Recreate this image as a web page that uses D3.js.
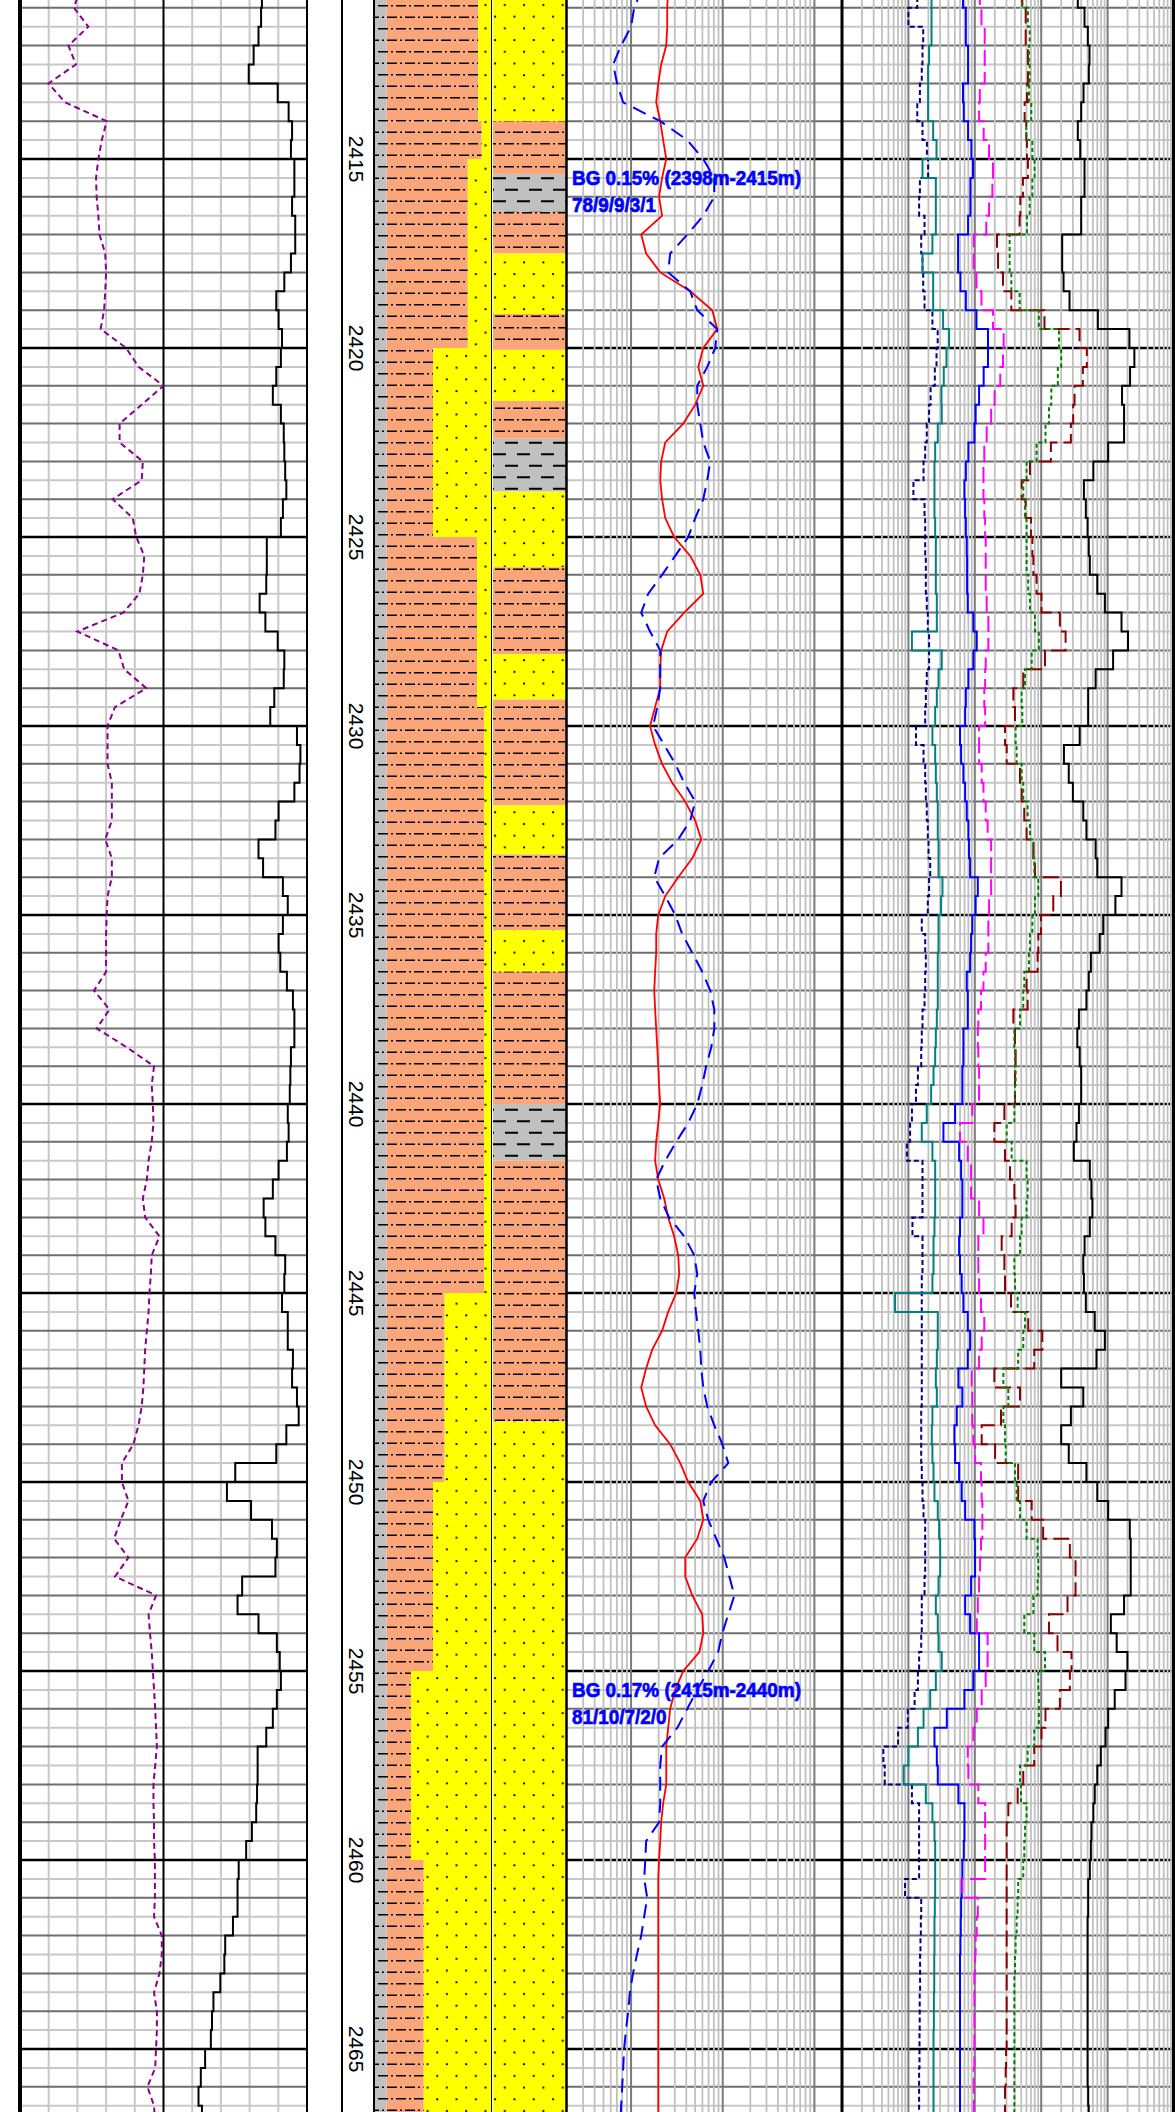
<!DOCTYPE html>
<html>
<head>
<meta charset="utf-8">
<script src="https://cdnjs.cloudflare.com/ajax/libs/d3/7.8.5/d3.min.js"></script>
<style>
  body { margin: 0; background: #fff; }
  svg { display: block; }
</style>
</head>
<body>
<div class="chart"></div>
<script>
var svgWidth = 1175;
var svgHeight = 2112;

// samples every 0.5 m starting here
var depthTop = 2410.5;
var depthStep = 0.5;

// track 1 (linear, 0-100)
var purpleCurve = [20.9, 18.8, 23.8, 16.9, 19.5, 9.9, 15.7, 30.2, 28.5, 27.3,
  26.5, 26.7, 27.3, 27.7, 29.7, 30.0, 29.7, 29.3, 28.1, 37.0,
  41.3, 50.0, 42.4, 34.7, 34.7, 42.8, 42.4, 32.3, 39.3, 40.5,
  43.3, 42.8, 41.6, 36.0, 20.0, 34.3, 36.3, 44.0, 33.1, 30.5,
  30.5, 30.5, 32.0, 32.0, 32.0, 29.7, 32.0, 32.0, 30.5, 30.2,
  30.0, 30.0, 30.0, 25.8, 31.2, 26.7, 37.2, 46.7, 45.9, 46.3,
  46.5, 45.9, 44.8, 44.2, 42.8, 43.6, 48.6, 45.9, 45.6, 45.1,
  44.8, 44.2, 43.6, 43.3, 43.0, 42.4, 41.3, 39.5, 35.5, 35.5,
  37.8, 35.1, 32.8, 37.8, 33.1, 47.4, 44.8, 45.3, 45.9, 46.3,
  46.7, 47.1, 47.4, 47.7, 47.1, 46.5, 46.5, 46.7, 46.7, 47.0,
  47.0, 47.0, 46.7, 49.4, 49.4, 48.6, 46.7, 47.7, 47.7, 47.4,
  47.1, 44.4, 46.7, 47.1];

var blackStep = [84.3, 84.0, 83.1, 81.4, 79.7, 89.8, 93.6, 94.8, 94.4, 95.6,
  95.6, 94.8, 95.9, 95.9, 94.4, 92.1, 89.3, 90.1, 91.3, 90.9,
  89.3, 88.1, 90.9, 91.9, 92.1, 92.4, 92.8, 91.6, 90.9, 86.0,
  86.0, 85.8, 83.5, 85.5, 89.8, 92.1, 91.9, 88.6, 87.2, 96.5,
  97.7, 97.4, 95.6, 90.1, 89.0, 83.1, 84.7, 91.6, 93.3, 91.6,
  90.1, 90.7, 93.0, 95.1, 95.6, 95.6, 94.4, 94.2, 94.0, 93.3,
  93.6, 93.0, 90.1, 88.1, 84.9, 85.5, 89.0, 92.4, 92.1, 91.3,
  93.3, 93.3, 95.1, 94.8, 96.5, 97.1, 92.8, 89.3, 75.0, 72.1,
  80.5, 87.8, 89.5, 89.0, 77.4, 75.8, 83.1, 89.5, 90.5, 90.9,
  89.5, 88.1, 85.8, 82.8, 82.8, 82.6, 82.3, 80.8, 78.8, 76.2,
  75.8, 75.8, 74.2, 71.5, 71.2, 69.8, 67.4, 66.9, 66.5, 64.5,
  63.0, 62.2, 63.4];

// track 3 (log 0.2 - 200)
var redCurve = [2.54, 2.48, 2.48, 2.42, 2.13, 1.98, 1.88, 2.08, 2.24, 2.42,
  2.18, 2.02, 2.18, 1.29, 1.46, 2.08, 4.42, 7.69, 8.71, 6.13,
  5.41, 6.13, 5.01, 3.71, 2.36, 2.13, 2.08, 2.18, 2.36, 2.95,
  4.42, 5.69, 6.13, 3.80, 2.48, 2.13, 2.08, 2.08, 1.83, 1.61,
  1.83, 2.18, 2.81, 3.90, 5.01, 5.83, 4.65, 3.27, 2.36, 1.98,
  1.88, 1.88, 1.83, 1.79, 1.83, 1.88, 1.93, 1.98, 2.02, 2.08,
  1.98, 1.88, 1.83, 1.98, 2.30, 2.54, 2.95, 3.27, 3.35, 3.11,
  2.54, 2.18, 1.70, 1.46, 1.29, 1.46, 1.83, 2.67, 3.44, 4.20,
  5.69, 6.13, 5.27, 3.90, 3.90, 4.65, 5.97, 6.13, 5.55, 3.71,
  3.03, 2.67, 2.54, 2.42, 2.42, 2.42, 2.24, 2.13, 2.08, 2.02,
  1.98, 1.98, 1.98, 1.98, 1.98, 1.98, 1.98, 1.98, 1.98, 1.98,
  1.98, 1.98, 1.98, 1.98];

var blueCurve = [1.32, 1.08, 1.00, 0.778, 0.637, 0.704, 0.818, 2.08, 4.10, 6.13,
  8.09, 8.09, 6.13, 4.10, 2.67, 2.54, 4.42, 5.27, 8.71, 8.28,
  6.78, 5.27, 5.27, 5.69, 6.13, 7.31, 6.78, 6.13, 5.01, 4.20,
  3.03, 2.18, 1.54, 1.29, 1.61, 2.08, 2.08, 2.08, 1.93, 1.74,
  2.30, 3.03, 3.80, 5.01, 4.42, 3.27, 2.02, 1.79, 2.36, 3.03,
  3.61, 4.65, 5.97, 7.31, 8.09, 8.09, 7.50, 6.60, 5.97, 5.27,
  4.20, 3.11, 2.36, 1.88, 2.08, 2.60, 3.80, 4.89, 5.27, 4.89,
  5.10, 5.41, 5.69, 5.83, 6.13, 6.78, 8.09, 9.90, 11.5, 7.50,
  6.13, 6.95, 8.50, 10.4, 11.8, 13.4, 11.5, 9.90, 8.90, 6.95,
  5.27, 4.10, 3.20, 2.18, 2.08, 2.08, 2.08, 2.02, 1.46, 1.43,
  1.39, 1.50, 1.39, 1.29, 1.16, 1.05, 0.97, 0.93, 0.88, 0.84,
  0.82, 0.80, 0.78, 0.76];

// track 4 (log 0.01 - 1000), step values per 0.5 m
var gasTotal = [35.6, 44.9, 50.4, 53.4, 52.2, 43.4, 40.0, 35.6, 38.7, 44.9,
  44.9, 40.0, 40.0, 20.7, 20.7, 21.7, 26.7, 71.3, 213, 253,
  218, 165, 177, 177, 102, 61, 44, 47, 50, 52,
  54, 70, 91, 162, 203, 121, 66, 51, 51, 38,
  22, 26, 30, 43, 48, 66, 70, 162, 131, 86,
  76, 56, 52, 48, 37, 35, 38, 40, 40, 37,
  34, 31, 54, 57, 59, 54, 45, 43, 44, 47,
  64, 91, 68, 20, 43, 28, 20, 26, 48, 70,
  102, 216, 223, 223, 223, 177, 112, 137, 199, 186,
  128, 102, 93, 79, 70, 64, 61, 57, 56, 54,
  51, 51, 50, 50, 50, 50, 50, 50, 50, 50,
  50, 51, 52];

var gasC1 = [5.19, 5.84, 5.84, 6.31, 6.31, 6.10, 5.63, 5.96, 6.10, 6.31,
  5.31, 4.85, 4.73, 2.16, 2.24, 2.66, 3.55, 11.2, 37.8, 48.7,
  42.4, 31.8, 30.3, 28.0, 14.0, 6.77, 5.08, 5.84, 7.01, 7.36,
  7.62, 8.52, 10.1, 19.1, 23.3, 11.4, 5.37, 3.81, 4.03, 2.85,
  3.02, 4.79, 5.08, 5.56, 6.03, 7.62, 8.06, 19.8, 15.2, 9.91,
  9.05, 8.83, 6.03, 6.25, 3.81, 4.03, 4.12, 4.03, 4.03, 2.79,
  1.97, 2.85, 3.39, 3.94, 4.12, 3.59, 2.54, 2.79, 2.85, 3.51,
  6.38, 10.4, 7.86, 1.97, 4.79, 2.48, 1.27, 2.02, 4.50, 4.50,
  7.19, 10.7, 27.0, 32.9, 32.9, 24.9, 13.1, 17.6, 28.6, 27.0,
  19.1, 11.6, 10.1, 7.86, 5.37, 4.42, 3.20, 3.02, 3.02, 3.02,
  3.02, 3.02, 3.02, 3.02, 3.02, 3.02, 3.02, 3.02, 3.02, 2.96,
  2.92, 2.85, 2.85];

var gasC2 = [5.19, 6.31, 6.70, 6.54, 6.70, 6.54, 7.09, 5.96, 7.36, 7.95,
  7.36, 6.70, 6.10, 3.35, 3.35, 3.55, 4.73, 9.22, 18.5, 20.0,
  17.8, 14.2, 13.1, 11.6, 8.52, 6.03, 5.37, 5.69, 6.03, 6.03,
  6.03, 6.38, 6.77, 8.06, 9.22, 7.19, 5.69, 5.08, 5.19, 4.12,
  4.27, 5.08, 5.37, 6.25, 6.77, 7.62, 7.86, 9.05, 8.06, 7.36,
  6.77, 6.54, 5.56, 5.37, 4.79, 3.94, 4.03, 4.12, 4.03, 3.94,
  3.02, 3.59, 6.03, 6.25, 6.03, 5.08, 4.79, 3.94, 4.03, 4.42,
  5.69, 5.37, 4.50, 2.69, 3.20, 2.69, 2.85, 2.92, 4.03, 4.27,
  4.79, 6.03, 8.83, 9.05, 8.83, 7.62, 5.56, 7.86, 11.4, 9.05,
  9.22, 9.22, 7.86, 6.25, 4.79, 4.96, 6.03, 5.69, 5.56, 5.37,
  4.50, 4.42, 4.27, 4.12, 4.03, 3.94, 3.94, 3.94, 3.94, 3.94,
  3.94, 3.94, 3.94];

var gasC3 = [1.19, 1.26, 1.41, 1.41, 1.41, 1.19, 1.16, 1.36, 1.64, 1.88,
  1.84, 1.64, 1.49, 0.963, 0.963, 1.06, 1.26, 1.88, 2.72, 2.66,
  2.42, 1.99, 1.76, 1.51, 1.39, 1.35, 1.35, 1.39, 1.43, 1.46,
  1.46, 1.46, 1.51, 1.60, 1.60, 1.46, 1.43, 1.39, 1.43, 1.16,
  1.16, 1.27, 1.35, 1.46, 1.56, 1.76, 1.76, 1.76, 1.64, 1.60,
  1.60, 1.46, 1.35, 1.24, 1.13, 1.11, 1.13, 1.16, 1.16, 0.916,
  0.599, 0.784, 0.879, 0.879, 1.16, 1.35, 1.13, 1.13, 1.16, 1.24,
  1.39, 1.27, 1.16, 0.898, 0.916, 0.916, 0.951, 1.01, 1.24, 1.27,
  1.30, 1.30, 1.24, 1.20, 1.16, 1.11, 1.07, 1.56, 1.56, 1.46,
  1.27, 1.07, 0.951, 0.784, 0.801, 1.13, 1.43, 1.43, 1.43, 1.43,
  0.649, 1.11, 1.07, 1.03, 1.01, 0.986, 0.986, 0.986, 0.986, 0.986,
  0.963, 0.963, 0.963];

var gasIC4 = [0.664, 0.733, 0.733, 0.792, 0.792, 0.664, 0.682, 0.792, 0.888, 0.939,
  0.859, 0.859, 0.792, 0.560, 0.560, 0.608, 0.733, 1.06, 1.58, 1.58,
  1.36, 1.16, 1.03, 0.986, 0.801, 0.733, 0.698, 0.715, 0.733, 0.757,
  0.766, 0.766, 0.784, 0.951, 1.07, 0.951, 0.801, 0.733, 0.715, 0.599,
  0.622, 0.673, 0.715, 0.757, 0.801, 0.819, 0.850, 1.11, 1.03, 0.916,
  0.879, 0.850, 0.757, 0.784, 0.784, 0.673, 0.673, 0.649, 0.649, 0.505,
  0.337, 0.581, 0.622, 0.649, 0.649, 0.599, 0.581, 0.599, 0.635, 0.673,
  0.784, 0.850, 0.784, 0.566, 0.649, 0.535, 0.493, 0.505, 0.581, 0.635,
  0.715, 0.986, 1.01, 1.01, 0.879, 0.715, 0.850, 1.16, 1.16, 0.951,
  0.698, 0.379, 0.247, 0.268, 0.277, 0.566, 0.698, 0.698, 0.682, 0.649,
  0.635, 0.622, 0.615, 0.608, 0.599, 0.599, 0.599, 0.599, 0.599, 0.599,
  0.599, 0.599, 0.599];

var gasNC4 = [0.223, 0.223, 0.223, 0.205, 0.198, 0.198, 0.198, 0.236, 0.265, 0.163,
  0.259, 0.259, 0.259, 0.230, 0.163, 0.236, 0.236, 0.333, 0.410, 0.374,
  0.341, 0.315, 0.318, 0.277, 0.253, 0.247, 0.247, 0.247, 0.253, 0.259,
  0.259, 0.259, 0.268, 0.268, 0.113, 0.318, 0.284, 0.268, 0.253, 0.230,
  0.253, 0.259, 0.268, 0.277, 0.277, 0.284, 0.284, 0.326, 0.311, 0.284,
  0.284, 0.277, 0.277, 0.277, 0.268, 0.259, 0.253, 0.239, 0.220, 0.189,
  0.159, 0.230, 0.253, 0.253, 0.253, 0.247, 0.239, 0.239, 0.230, 0.063,
  0.277, 0.277, 0.268, 0.259, 0.268, 0.230, 0.225, 0.230, 0.239, 0.247,
  0.277, 0.290, 0.301, 0.301, 0.284, 0.259, 0.277, 0.284, 0.318, 0.259,
  0.213, 0.169, 0.139, 0.100, 0.085, 0.183, 0.230, 0.247, 0.253, 0.253,
  0.253, 0.250, 0.247, 0.247, 0.245, 0.245, 0.242, 0.242, 0.239, 0.239,
  0.239, 0.239, 0.239];

var gasIC5 = [0.136, 0.100, 0.167, 0.163, 0.159, 0.149, 0.136, 0.163, 0.190, 0.198,
  0.149, 0.145, 0.175, 0.156, 0.163, 0.167, 0.175, 0.230, 0.276, 0.265,
  0.250, 0.216, 0.205, 0.189, 0.179, 0.169, 0.119, 0.175, 0.179, 0.179,
  0.183, 0.183, 0.189, 0.196, 0.205, 0.205, 0.189, 0.183, 0.179, 0.130,
  0.169, 0.179, 0.183, 0.189, 0.196, 0.201, 0.213, 0.205, 0.196, 0.159,
  0.179, 0.183, 0.179, 0.175, 0.163, 0.159, 0.156, 0.139, 0.130, 0.113,
  0.106, 0.095, 0.163, 0.163, 0.163, 0.115, 0.163, 0.163, 0.159, 0.159,
  0.159, 0.159, 0.159, 0.159, 0.159, 0.156, 0.156, 0.156, 0.159, 0.163,
  0.169, 0.179, 0.179, 0.179, 0.175, 0.159, 0.159, 0.156, 0.145, 0.139,
  0.124, 0.098, 0.070, 0.042, 0.044, 0.113, 0.145, 0.145, 0.145, 0.145,
  0.089, 0.156, 0.154, 0.152, 0.150, 0.150, 0.148, 0.148, 0.147, 0.147,
  0.145, 0.145, 0.145];

// percentage lithology column
var pctTop  = [2410.5, 2414, 2415, 2420, 2425, 2429.5, 2445, 2450, 2455, 2460];
var pctBase = [2414, 2415, 2420, 2425, 2429.5, 2445, 2450, 2455, 2460, 2467];
var pctMud  = [10, 10, 10, 10, 10, 10, 10, 10, 10, 10];
var pctSand = [11, 8, 20, 50, 12, 6, 40, 50, 69, 58];

// interpreted lithology column
var bedTop  = [2410.5, 2414.0, 2415.4, 2416.4, 2417.5, 2419.1, 2420.05, 2421.4, 2422.4, 2423.8,
  2425.8, 2428.1, 2429.3, 2432.1, 2433.4, 2435.4, 2436.5, 2440.0, 2441.5, 2448.4];
var bedBase = [2414.0, 2415.4, 2416.4, 2417.5, 2419.1, 2420.05, 2421.4, 2422.4, 2423.8, 2425.8,
  2428.1, 2429.3, 2432.1, 2433.4, 2435.4, 2436.5, 2440.0, 2441.5, 2448.4, 2467];
var bedType = ["sand", "shale", "mud", "shale", "sand", "shale", "sand", "shale", "mud", "sand",
  "shale", "sand", "shale", "sand", "shale", "sand", "shale", "mud", "shale", "sand"];

// annotations
var noteDepth = [2415.7, 2455.7];
var noteLine1 = ["BG 0.15% (2398m-2415m)", "BG 0.17% (2415m-2440m)"];
var noteLine2 = ["78/9/9/3/1", "81/10/7/2/0"];

var depthLabels = [2415, 2420, 2425, 2430, 2435, 2440, 2445, 2450, 2455, 2460, 2465];

var svg = d3.select(".chart")
  .append("svg")
  .attr("width", svgWidth)
  .attr("height", svgHeight);

// scales
var y = d3.scaleLinear().domain([2415, 2465]).range([159, 2049]);
var x1 = d3.scaleLinear().domain([0, 100]).range([20, 307]);
var x3 = d3.scaleLog().domain([0.2, 200]).range([567, 842]);
var x4 = d3.scaleLog().domain([0.01, 1000]).range([842, 1174]);
var xPct = d3.scaleLinear().domain([0, 100]).range([375, 491]);

var orange = "#FAA67A";

// patterns
var defs = svg.append("defs");

var sandPat = defs.append("pattern").attr("id", "sand")
  .attr("patternUnits", "userSpaceOnUse").attr("width", 19.3).attr("height", 23.4);
sandPat.append("rect").attr("width", 19.3).attr("height", 23.4).attr("fill", "#FFFF00");
sandPat.append("circle").attr("cx", 3).attr("cy", 5).attr("r", 1.1).attr("fill", "#000");
sandPat.append("circle").attr("cx", 12.65).attr("cy", 16.7).attr("r", 1.1).attr("fill", "#000");

var shalePat = defs.append("pattern").attr("id", "shaleLines")
  .attr("patternUnits", "userSpaceOnUse").attr("width", 18).attr("height", 23);
shalePat.append("path")
  .attr("d", "M0,5.75H10M13,5.75H15M9,17.25H18M0,17.25H1M4,17.25H6")
  .attr("stroke", "#000").attr("stroke-width", 1.7).attr("fill", "none");

var mudPat = defs.append("pattern").attr("id", "mud")
  .attr("patternUnits", "userSpaceOnUse").attr("width", 24).attr("height", 23);
mudPat.append("rect").attr("width", 24).attr("height", 23).attr("fill", "#C0C0C0");
mudPat.append("path")
  .attr("d", "M1,5.75H14M13,17.25H24M0,17.25H2")
  .attr("stroke", "#000").attr("stroke-width", 1.8).attr("fill", "none");

// grid helpers
var gridDepths = d3.range(4821, 4935).map(n => n / 2);

function hGrid(g, xa, xb) {
  g.append("g").selectAll("line")
    .data(gridDepths)
    .enter()
    .append("line")
    .attr("x1", xa).attr("x2", xb)
    .attr("y1", d => y(d)).attr("y2", d => y(d))
    .attr("stroke", d => d % 5 === 0 ? "#000" : (d % 1 === 0 ? "#6e6e6e" : "#c8c8c8"))
    .attr("stroke-width", d => d % 5 === 0 ? 2.5 : 2);
}

function vGrid(g, scale, values, color, width) {
  g.append("g").selectAll("line")
    .data(values)
    .enter()
    .append("line")
    .attr("x1", d => scale(d)).attr("x2", d => scale(d))
    .attr("y1", 0).attr("y2", svgHeight)
    .attr("stroke", color)
    .attr("stroke-width", width);
}

function logMinor(decades, lo, hi) {
  var out = [];
  decades.forEach(function(dec) {
    for (var m = 2; m <= 9; m++) {
      var v = dec * m;
      if (v > lo * 1.0001 && v < hi * 0.9999) out.push(v);
    }
  });
  return out;
}

// track 1 grid
var t1 = svg.append("g");
vGrid(t1, x1, [10, 20, 30, 40, 60, 70, 80, 90], "#c8c8c8", 2);
hGrid(t1, 20, 307);
vGrid(t1, x1, [50], "#000", 2);

// track 3 grid
var t3 = svg.append("g");
hGrid(t3, 567, 842);
vGrid(t3, x3, logMinor([0.1, 1, 10, 100], 0.2, 200), "#c0c0c0", 1.8);
vGrid(t3, x3, [1, 10, 100], "#7a7a7a", 2);

// track 4 grid
var t4 = svg.append("g");
hGrid(t4, 842, 1174);
vGrid(t4, x4, logMinor([0.01, 0.1, 1, 10, 100], 0.01, 1000), "#c0c0c0", 1.8);
vGrid(t4, x4, [0.1, 1, 10, 100], "#7a7a7a", 2);

// percentage lithology column
var pct = svg.append("g");
pctTop.forEach(function(top, i) {
  var yt = y(top), h = y(pctBase[i]) - y(top);
  var xMud = xPct(pctMud[i]);
  var xSand = xPct(100 - pctSand[i]);
  pct.append("rect").attr("x", xPct(0)).attr("y", yt).attr("width", xMud - xPct(0)).attr("height", h).attr("fill", "#C0C0C0");
  pct.append("rect").attr("x", xMud).attr("y", yt).attr("width", xSand - xMud).attr("height", h).attr("fill", orange);
  pct.append("rect").attr("x", xPct(0)).attr("y", yt).attr("width", xSand - xPct(0)).attr("height", h).attr("fill", "url(#shaleLines)");
  pct.append("rect").attr("x", xSand).attr("y", yt).attr("width", xPct(100) - xSand).attr("height", h).attr("fill", "url(#sand)");
});

// interpreted lithology column
var lith = svg.append("g");
bedTop.forEach(function(top, i) {
  var yt = y(top), h = y(bedBase[i]) - y(top);
  var t = bedType[i];
  lith.append("rect").attr("x", 493).attr("y", yt).attr("width", 73).attr("height", h)
    .attr("fill", t === "sand" ? "url(#sand)" : (t === "mud" ? "url(#mud)" : orange));
  if (t === "shale") {
    lith.append("rect").attr("x", 493).attr("y", yt).attr("width", 73).attr("height", h)
      .attr("fill", "url(#shaleLines)");
  }
});

// track borders
var borders = [[20, 4], [307, 2], [342, 2], [374, 2], [491.5, 1], [566.5, 2.5], [842, 3], [1173.5, 3]];
svg.append("g").selectAll("line")
  .data(borders)
  .enter()
  .append("line")
  .attr("x1", d => d[0]).attr("x2", d => d[0])
  .attr("y1", 0).attr("y2", svgHeight)
  .attr("stroke", "#000")
  .attr("stroke-width", d => d[1]);

// depth labels
svg.append("g").selectAll("text")
  .data(depthLabels)
  .enter()
  .append("text")
  .attr("transform", d => `translate(357, ${y(d)}) rotate(90)`)
  .attr("text-anchor", "middle")
  .attr("dy", "0.36em")
  .attr("font-family", "'Liberation Sans', Arial, sans-serif")
  .attr("font-size", "21px")
  .text(d => d);

// curve helpers
function vertexPoints(vals) {
  return vals.map((v, i) => [v, depthTop + i * depthStep]);
}

function stepPoints(vals) {
  var pts = [];
  vals.forEach(function(v, i) {
    var d = depthTop + i * depthStep;
    pts.push([v, d], [v, d + depthStep]);
  });
  return pts;
}

function drawCurve(g, scale, pts, color, width, dash) {
  var line = d3.line()
    .x(p => scale(p[0]))
    .y(p => y(p[1]));
  g.append("path")
    .datum(pts)
    .attr("d", line)
    .attr("fill", "none")
    .attr("stroke", color)
    .attr("stroke-width", width)
    .attr("stroke-dasharray", dash);
}

// track 1 curves
drawCurve(svg, x1, vertexPoints(purpleCurve), "#8B008B", 2, "6,4");
drawCurve(svg, x1, stepPoints(blackStep), "#000", 2, null);

// track 3 curves
drawCurve(svg, x3, vertexPoints(redCurve), "#FF0000", 1.8, null);
drawCurve(svg, x3, vertexPoints(blueCurve), "#0000FF", 2, "14,8");

// track 4 curves
drawCurve(svg, x4, stepPoints(gasIC5), "#000080", 2, "5,3");
drawCurve(svg, x4, stepPoints(gasNC4), "#008080", 2, null);
drawCurve(svg, x4, stepPoints(gasIC4), "#0000FF", 2, null);
drawCurve(svg, x4, stepPoints(gasC3), "#FF00FF", 2, "16,6");
drawCurve(svg, x4, stepPoints(gasC1), "#8B0000", 2, "16,6");
drawCurve(svg, x4, stepPoints(gasC2), "#008000", 2, "4,3");
drawCurve(svg, x4, stepPoints(gasTotal), "#000", 2, null);

// background gas notes
noteDepth.forEach(function(d, i) {
  var g = svg.append("g")
    .attr("transform", `translate(572, ${y(d)}) scale(0.9, 1)`)
    .attr("font-family", "'Liberation Sans', Arial, sans-serif")
    .attr("font-weight", "bold")
    .attr("font-size", "21px")
    .attr("fill", "#0000FF")
    .attr("stroke", "#0000FF")
    .attr("stroke-width", 0.7);
  g.append("text").attr("x", 0).attr("y", 0).text(noteLine1[i]);
  g.append("text").attr("x", 0).attr("y", 27).text(noteLine2[i]);
});
</script>
</body>
</html>
